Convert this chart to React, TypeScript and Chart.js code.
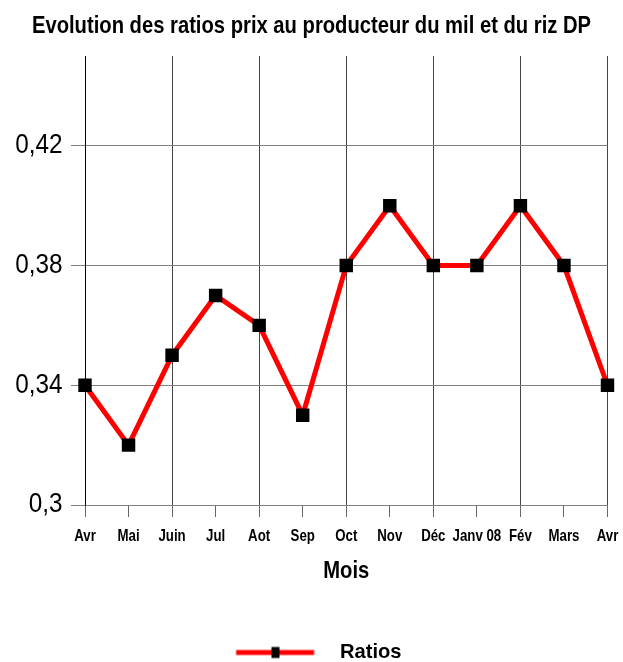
import { useEffect, useRef } from 'react';
import { Chart, registerables } from 'chart.js';

Chart.register(...registerables);

const chartTitle = 'Evolution des ratios prix au producteur du mil et du riz DP';
const xAxisTitle = 'Mois';
const seriesLabel = 'Ratios';
const months = ['Avr', 'Mai', 'Juin', 'Jul', 'Aot', 'Sep', 'Oct', 'Nov', 'Déc', 'Janv 08', 'Fév', 'Mars', 'Avr'];
const ratios = [0.34, 0.32, 0.35, 0.37, 0.36, 0.33, 0.38, 0.4, 0.38, 0.38, 0.4, 0.38, 0.34];
const yTickValues = [0.3, 0.34, 0.38, 0.42];
const yMin = 0.3;
const yMax = 0.45;

// horizontal squeeze per font size (px) to mimic the condensed lettering
const TEXT_SCALE: Record<number, number> = { 24: 0.842, 17: 0.78, 27: 0.9, 21: 0.96 };

function scaleFor(font: string): number {
  const m = /(\d+(?:\.\d+)?)px/.exec(font);
  if (!m) return 1;
  const v = TEXT_SCALE[Math.round(parseFloat(m[1]))];
  return v === undefined ? 1 : v;
}

function condense(ctx: any) {
  const origFill = ctx.fillText.bind(ctx);
  const origMeasure = ctx.measureText.bind(ctx);
  ctx.fillText = (text: string, x: number, y: number, maxWidth?: number) => {
    const sx = scaleFor(ctx.font);
    ctx.save();
    ctx.translate(x, y);
    ctx.scale(sx, 1);
    if (maxWidth === undefined || maxWidth === null) origFill(text, 0, 0);
    else origFill(text, 0, 0, maxWidth / sx);
    ctx.restore();
  };
  ctx.measureText = (text: string) => {
    const m = origMeasure(text);
    const sx = scaleFor(ctx.font);
    if (sx === 1) return m;
    return {
      width: m.width * sx,
      actualBoundingBoxLeft: m.actualBoundingBoxLeft * sx,
      actualBoundingBoxRight: m.actualBoundingBoxRight * sx,
      actualBoundingBoxAscent: m.actualBoundingBoxAscent,
      actualBoundingBoxDescent: m.actualBoundingBoxDescent,
      fontBoundingBoxAscent: m.fontBoundingBoxAscent,
      fontBoundingBoxDescent: m.fontBoundingBoxDescent,
    };
  };
}

function makeLegendSymbol(): HTMLCanvasElement {
  const c = document.createElement('canvas');
  c.width = 108;
  c.height = 14;
  const g = c.getContext('2d')!;
  g.fillStyle = '#ff0000';
  g.fillRect(14.6, 4.5, 78, 5);
  g.fillStyle = '#000000';
  g.fillRect(50, 1.5, 8, 11);
  return c;
}

export default function App() {
  const ref = useRef<HTMLCanvasElement | null>(null);

  useEffect(() => {
    const canvas = ref.current;
    if (!canvas) return;
    const ctx = canvas.getContext('2d');
    condense(ctx);
    Chart.defaults.font.family = '"Liberation Sans", Arial, sans-serif';
    const chart = new Chart(canvas, {
      type: 'line',
      data: {
        labels: months,
        datasets: [
          {
            label: seriesLabel,
            data: ratios,
            borderColor: '#ff0000',
            borderWidth: 5,
            tension: 0,
            pointStyle: 'rect',
            pointRadius: 9.5,
            pointBackgroundColor: '#000000',
            pointBorderColor: '#000000',
            pointBorderWidth: 0,
            fill: false,
          },
        ],
      },
      options: {
        responsive: false,
        animation: false,
        layout: { padding: 0 },
        plugins: {
          title: {
            display: true,
            text: chartTitle,
            color: '#000',
            font: { size: 24, weight: 'bold' },
            padding: { top: 12.3, bottom: 14.9 },
          },
          legend: {
            display: true,
            position: 'bottom',
            labels: {
              color: '#000',
              font: { size: 21, weight: 'bold' },
              usePointStyle: true,
              pointStyle: makeLegendSymbol() as any,
              pointStyleWidth: 108,
              padding: 10,
            },
          },
          tooltip: { enabled: false },
        },
        scales: {
          x: {
            type: 'category',
            offset: false,
            grid: {
              color: (c: any) => (c.index % 2 === 0 ? '#444444' : 'rgba(0,0,0,0)'),
              tickColor: '#666666',
              tickLength: 12,
              drawTicks: true,
            },
            border: { display: true, color: '#808080', width: 1 },
            ticks: {
              color: '#000',
              font: { size: 17, weight: 'bold' },
              padding: 8.8,
              autoSkip: false,
              maxRotation: 0,
              minRotation: 0,
            },
            title: {
              display: true,
              text: xAxisTitle,
              color: '#000',
              font: { size: 24, weight: 'bold' },
              padding: { top: 0, bottom: 45.9 },
            },
            afterFit: (s: any) => {
              s.height = 127;
              s.paddingLeft = 0;
              s.paddingRight = 15.5;
            },
          },
          y: {
            type: 'linear',
            min: yMin,
            max: yMax,
            afterBuildTicks: (s: any) => {
              s.ticks = yTickValues.map((v) => ({ value: v }));
            },
            afterFit: (s: any) => {
              s.width = 85;
            },
            grid: {
              color: '#808080',
              tickColor: '#808080',
              tickLength: 14,
            },
            border: { display: true, color: '#000000', width: 1 },
            ticks: {
              color: '#000',
              font: { size: 27 },
              padding: 8.5,
              callback: (v: any) => String(Math.round(Number(v) * 100) / 100).replace('.', ','),
            },
          },
        },
      },
    });
    return () => chart.destroy();
  }, []);

  return (
    <div
      style={{
        position: 'fixed',
        left: 0,
        top: 0,
        width: 623,
        height: 662,
        overflow: 'hidden',
        background: '#fff',
      }}
    >
      <canvas ref={ref} width={623} height={673} style={{ display: 'block' }} />
    </div>
  );
}
